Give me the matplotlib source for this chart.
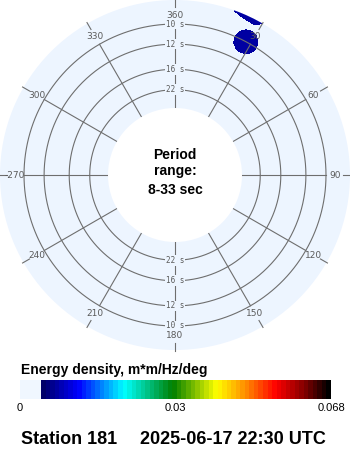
import numpy as np
import matplotlib
matplotlib.use("Agg")
import matplotlib.pyplot as plt
from matplotlib.colors import LinearSegmentedColormap

# --- data ---
ring_periods = [10, 12, 16, 22]                     # seconds
angle_ticks = [0, 30, 60, 90, 120, 150, 180, 210, 240, 270, 300, 330]
angle_labels = ["360", "30", "60", "90", "120", "150", "180", "210", "240", "-270", "300", "330"]
period_min, period_max = 8, 33

# directional spectrum on a coarse grid (deg, Hz, m*m/Hz/deg)
spec_dirs = [18, 20, 22, 24, 26, 28, 30, 32, 34, 36, 38]
spec_freqs = [0.086, 0.090, 0.094, 0.098, 0.102, 0.106, 0.110, 0.114, 0.118, 0.122]
spec_energy = [
    [0.00026, 0.00171, 0.00301, 0.00407, 0.00478, 0.00504, 0.00478, 0.00407, 0.00301, 0.00171, 0.00026],
    [0.00096, 0.00266, 0.00423, 0.00560, 0.00658, 0.00696, 0.00658, 0.00560, 0.00423, 0.00266, 0.00096],
    [0.00136, 0.00327, 0.00512, 0.00686, 0.00829, 0.00892, 0.00829, 0.00686, 0.00512, 0.00327, 0.00136],
    [0.00158, 0.00344, 0.00550, 0.00754, 0.00951, 0.01084, 0.00951, 0.00754, 0.00550, 0.00344, 0.00158],
    [0.00125, 0.00318, 0.00530, 0.00741, 0.00945, 0.01084, 0.00945, 0.00741, 0.00530, 0.00318, 0.00125],
    [0.00039, 0.00251, 0.00457, 0.00653, 0.00817, 0.00892, 0.00817, 0.00653, 0.00457, 0.00251, 0.00039],
    [0.0,     0.00151, 0.00345, 0.00518, 0.00649, 0.00690, 0.00649, 0.00518, 0.00345, 0.00151, 0.0],
    [0.0,     0.00044, 0.00204, 0.00357, 0.00464, 0.00504, 0.00464, 0.00357, 0.00204, 0.00044, 0.0],
    [0.00200, 0.00500, 0.00721, 0.00885, 0.00901, 0.00955, 0.00530, 0.00192, 0.00028, 0.0,     0.0],
    [0.00500, 0.01030, 0.01100, 0.01100, 0.01100, 0.01100, 0.00850, 0.00300, 0.0,     0.0,     0.0],
]
lowest_level = 0.007

cbar_ticks = ["0", "0.03", "0.068"]
cbar_tick_pos = [0.0, 0.5, 1.0]

station = "Station 181"
stamp = "2025-06-17 22:30 UTC"

# --- styling ---
disc_col = "#EDF5FF"
grid_col = "#6e6e6e"
lab_col = "#5a5a5a"
spec_cmap = LinearSegmentedColormap.from_list("spec", [
    (0.0, "#000068"), (0.124, "#0000ff"), (0.283, "#00ffff"), (0.455, "#008000"),
    (0.607, "#ffff00"), (0.71, "#ff8c00"), (0.814, "#ff0000"), (0.917, "#800000"),
    (1.0, "#000000")], N=64)

fig = plt.figure(figsize=(3.5, 4.5), dpi=100)

# polar rose: radius linear in frequency, hole inside 33 s
k = 1205.0               # px per Hz
origin = -0.0253
R = 175.0
fmax = origin + R / k
ax = fig.add_axes([0, 100 / 450, 1, 350 / 450], projection="polar")
ax.set_theta_zero_location("N")
ax.set_theta_direction(-1)
ax.set_rorigin(origin)
ax.set_rlim(1.0 / period_max, fmax)
ax.set_facecolor(disc_col)
ax.set_xticks([])
ax.set_yticks([])
ax.grid(False)
for s in ax.spines.values():
    s.set_color("none")
    s.set_linewidth(0)

# spectrum
th, ff = np.meshgrid(np.deg2rad(spec_dirs), spec_freqs)
ax.contourf(th, ff, np.array(spec_energy), levels=[lowest_level, 1.0],
            colors=[spec_cmap(0.05)], zorder=1)

# rings and labels
theta_full = np.linspace(0, 2 * np.pi, 721)
for p in ring_periods:
    ax.plot(theta_full, np.full_like(theta_full, 1.0 / p), color=grid_col, lw=0.8, zorder=2)
    for t in (0, np.pi):
        ax.text(t, 1.0 / p, f"{p} s", ha="center", va="center", fontsize=5.5,
                family="DejaVu Sans Mono", color=lab_col, zorder=4,
                bbox=dict(fc=disc_col, ec="none", pad=0.6))

# spokes, outer ticks and direction labels
f_lab = origin + 160 / k
for d, lab in zip(angle_ticks, angle_labels):
    t = np.deg2rad(d)
    ax.plot([t, t], [1.0 / period_max, 0.1], color=grid_col, lw=0.8, zorder=2)
    ax.plot([t, t], [origin + 168 / k, origin + 176 / k], color=grid_col, lw=0.8,
            zorder=2, clip_on=False)
    ax.text(t, f_lab, lab, ha="center", va="center", fontsize=6.5,
            family="DejaVu Sans", color=lab_col, zorder=4)

# centre text
bold = dict(family="Liberation Sans", fontweight="bold", color="black", ha="center", va="center")
fig.text(175 / 350, 1 - 155 / 450, "Period", fontsize=10, **bold)
fig.text(175 / 350, 1 - 171 / 450, "range:", fontsize=10, **bold)
fig.text(175 / 350, 1 - 190 / 450, f"{period_min}-{period_max} sec", fontsize=10, **bold)

# colour bar
cax = fig.add_axes([20 / 350, 51 / 450, 311 / 350, 19 / 450])
light_w = 21 / 311
cax.axvspan(0, light_w, color="#F0F7FF", lw=0)
cax.imshow(np.linspace(0, 1, 64)[None, :], cmap=spec_cmap, aspect="auto",
           extent=[light_w, 1, 0, 1], interpolation="nearest")
cax.set_xlim(0, 1)
cax.set_ylim(0, 1)
cax.axis("off")
for lab, pos in zip(cbar_ticks, cbar_tick_pos):
    cax.text(pos, -0.45, lab, ha="center", va="center", fontsize=8,
             family="Liberation Sans", transform=cax.transAxes)

fig.text(21 / 350, 1 - 370 / 450, "Energy density, m*m/Hz/deg", fontsize=10,
         family="Liberation Sans", fontweight="bold", va="center")
fig.text(21 / 350, 1 - 439 / 450, station, fontsize=13, family="Liberation Sans",
         fontweight="bold", va="center")
fig.text(140 / 350, 1 - 439 / 450, stamp, fontsize=13, family="Liberation Sans",
         fontweight="bold", va="center")

fig.savefig("out.png", dpi=100)
